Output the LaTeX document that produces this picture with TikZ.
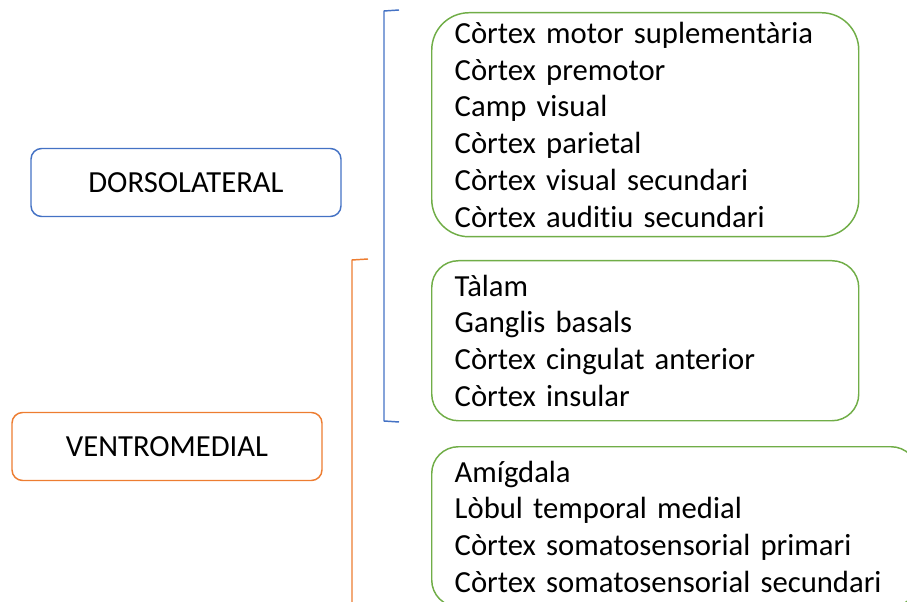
\documentclass[tikz,border=0pt]{standalone}
\usepackage{fontspec}
\setmainfont{Carlito}[Ligatures=NoCommon]
\definecolor{dorsblue}{HTML}{4472C4}
\definecolor{ventorange}{HTML}{ED7D31}
\definecolor{areagreen}{HTML}{70AD47}
\tikzset{
  sidebox/.style={draw, line width=1.1pt, rounded corners=8pt, minimum width=232.5pt,
    minimum height=51pt, font=\fontsize{23}{27}\selectfont},
  areabox/.style={draw=areagreen, line width=1.1pt, anchor=north west, align=left,
    inner xsep=17.25pt, inner ysep=0pt, text width=285.75pt,
    font=\fontsize{23}{27.6}\selectfont},
  bracketline/.style={line width=1.1pt, line join=round},
}

\begin{document}
\begin{tikzpicture}[x=0.75pt, y=-0.75pt]
        \clip (0,0) rectangle (907,602);
        % the two regions
        \node[sidebox, draw=dorsblue] (dors) at (186,182.5) {DORSOLATERAL};
        \node[sidebox, draw=ventorange] (vent) at (167,446.5) {VENTROMEDIAL};
        % the areas
        \node[areabox, minimum height=168pt, rounded corners=28pt] (motor) at (431,12)
                {Còrtex motor suplementària\\Còrtex premotor\\Camp visual\\Còrtex parietal\\Còrtex visual secundari\\Còrtex auditiu secundari};
        \node[areabox, minimum height=120pt, rounded corners=20pt] (talam) at (431,260)
                {Tàlam\\Ganglis basals\\Còrtex cingulat anterior\\Còrtex insular};
        \node[areabox, minimum height=120pt, rounded corners=20pt, text width=330pt] (amig) at (431,446)
                {Amígdala\\Lòbul temporal medial\\Còrtex somatosensorial primari\\Còrtex somatosensorial secundari};
        % brackets
        \draw[bracketline, dorsblue] (399,10) -- (384,11) -- (384,421) -- (399,422);
        \draw[bracketline, ventorange] (368,259) -- (352,260) -- (352,610);
\end{tikzpicture}
\end{document}
